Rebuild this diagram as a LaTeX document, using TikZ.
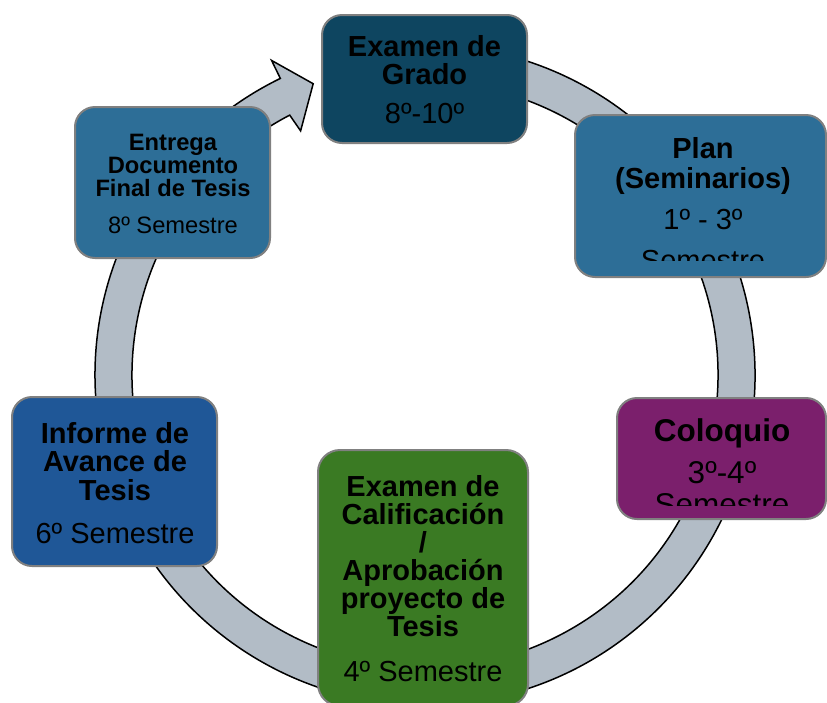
\documentclass[tikz,border=0pt]{standalone}
\usepackage{fontspec}
\setmainfont{Liberation Sans}
\usetikzlibrary{calc}
\definecolor{ringfill}{HTML}{B2BCC6}
\definecolor{boxedge}{HTML}{808080}
\definecolor{gradofill}{HTML}{0E4560}
\definecolor{planfill}{HTML}{2D6E97}
\definecolor{coloqfill}{HTML}{7B1F6C}
\definecolor{califfill}{HTML}{3A7A23}
\definecolor{informefill}{HTML}{1F5797}
\tikzset{
  box/.style={draw=boxedge, line width=2pt, rounded corners=20pt, inner sep=0pt},
  lbl/.style={align=center, inner sep=0pt, text=black, anchor=north},
  ringstyle/.style={fill=ringfill, draw=black, line width=1.5pt, line join=miter}
}
\begin{document}
\begin{tikzpicture}[x=1pt,y=1pt]
\useasboundingbox (0,0) rectangle (827,-702);
\coordinate (C) at (425,-375);
% circular arrow ring
\draw[ringstyle]
  ($(C)+(100:330)$) arc[start angle=100, end angle=-244, radius=330]
  -- ($(C)+(116:350)$) -- ($(C)+(111:312)$) -- ($(C)+(117:274)$)
  -- ($(C)+(117.5:293)$) arc[start angle=-242.5, end angle=100, radius=293]
  -- cycle;
% boxes
\node[box, fill=gradofill, minimum width=205pt, minimum height=128pt] (grado) at (424.5,-79) {};
\node[box, fill=planfill, minimum width=251pt, minimum height=162pt] (plan) at (700.5,-196) {};
\node[box, fill=coloqfill, minimum width=209pt, minimum height=121pt] (coloq) at (721.5,-458.5) {};
\node[box, fill=califfill, minimum width=210pt, minimum height=256pt, rounded corners=22pt] (calif) at (423,-578) {};
\node[box, fill=informefill, minimum width=205pt, minimum height=169pt] (informe) at (114.5,-481.5) {};
\node[box, fill=planfill, minimum width=195pt, minimum height=151pt] (entrega) at (172.5,-182.5) {};
% texts
\node[lbl, font=\fontsize{29}{28}\selectfont\bfseries] (gradoT) at (424.5,-35)
  {Examen de\\Grado\\[11pt]\mdseries 8º-10º};
\begin{scope}
  \clip (575,-120) rectangle (827,-260);
  \node[lbl, font=\fontsize{29}{30.5}\selectfont\bfseries] (planT) at (703,-137)
    {Plan\\(Seminarios)\\[10.5pt]\mdseries 1º - 3º\\[10.5pt]\mdseries Semestre};
\end{scope}
\begin{scope}
  \clip (617,-400) rectangle (827,-505);
  \node[lbl, font=\fontsize{31.5}{31.5}\selectfont\bfseries] (coloqT) at (722,-418)
    {Coloquio\\[11pt]\mdseries 3º-4º\\\mdseries Semestre};
\end{scope}
\node[lbl, font=\fontsize{29}{28}\selectfont\bfseries] (califT) at (423,-475)
  {Examen de\\Calificación\\/\\Aprobación\\proyecto de\\Tesis\\[17pt]\mdseries 4º Semestre};
\node[lbl, font=\fontsize{29}{28.5}\selectfont\bfseries] (informeT) at (115,-422)
  {Informe de\\Avance de\\Tesis\\[14.5pt]\mdseries 6º Semestre};
\node[lbl, font=\fontsize{23.7}{23}\selectfont\bfseries] (entregaT) at (173,-133.5)
  {Entrega\\Documento\\Final de Tesis\\[14pt]\mdseries 8º Semestre};
\end{tikzpicture}
\end{document}
